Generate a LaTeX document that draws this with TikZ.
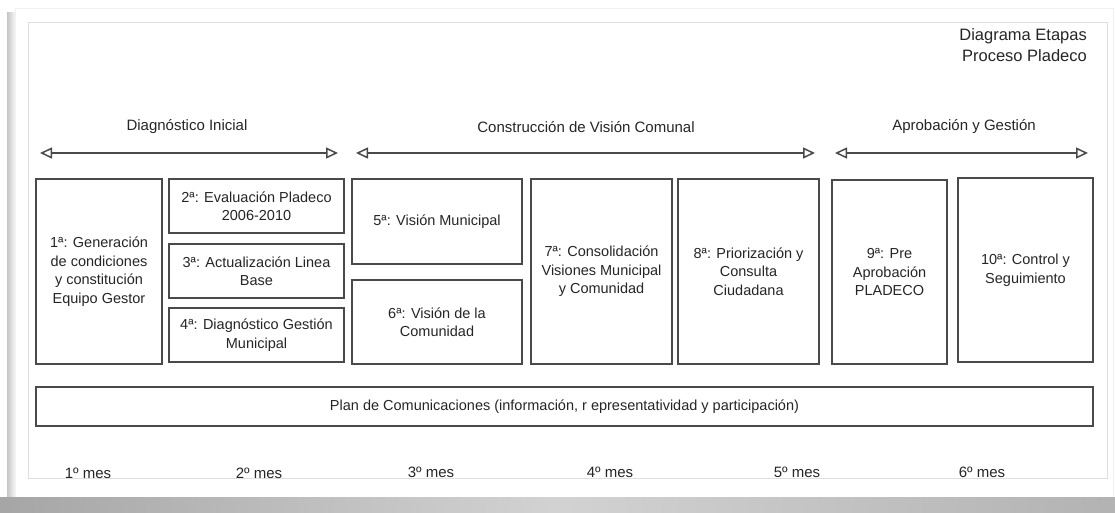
\documentclass[tikz,border=0pt]{standalone}
\usepackage{fontspec}
\setmainfont{Liberation Sans}
\usepackage{tikz}
\usetikzlibrary{
	arrows.meta,
	positioning
}
\definecolor{linegray}{HTML}{4A4A4A}
\definecolor{textgray}{HTML}{262626}
\tikzset{every path/.append style={line width=1.7pt}}
\tikzset{
	etapa/.style={draw=linegray,rectangle,align=center,text=textgray,inner sep=2pt,font=\fontsize{14.5}{18.5}\selectfont},
	fase/.style={text=textgray,font=\fontsize{15}{18}\selectfont},
	mes/.style={text=textgray,font=\fontsize{15}{18}\selectfont},
	flecha/.style={draw=linegray,{Triangle[open,length=12pt,width=11pt,line width=1.5pt]}-{Triangle[open,length=12pt,width=11pt,line width=1.5pt]}}
}
\newcommand{\tikzEtapa}[4][]{\node (#2) at #3 [etapa,#1]{#4};}

\begin{document}
\begin{tikzpicture}[x=1pt,y=-1pt]
	\useasboundingbox (0,0) rectangle (1115,512);
	% papel y sombra
	\fill[white] (0,0) rectangle (1115,512);
	\shade[left color=gray!45,right color=gray!8,line width=0pt] (7,12) rectangle (15,497);
	\draw[gray!12,line width=0.6pt] (15,8) rectangle (1113,497);
	\draw[gray!25,line width=0.6pt] (28,22) rectangle (1107,478);
	\shade[left color=gray!70,right color=gray!60,middle color=gray!35,line width=0pt] (0,497) rectangle (1115,512);

	\node[text=textgray,align=right,anchor=north east,font=\fontsize{16.5}{21}\selectfont] (titulo) at (1091,24) {Diagrama Etapas\\Proceso Pladeco};

	% fases
	\coordinate (f1a) at (40,153);
	\coordinate (f1b) at (338,153);
	\coordinate (f2a) at (356,153);
	\coordinate (f2b) at (815,153);
	\coordinate (f3a) at (835,153);
	\coordinate (f3b) at (1088,153);
	\draw[flecha] (f1a) -- (f1b);
	\draw[flecha] (f2a) -- (f2b);
	\draw[flecha] (f3a) -- (f3b);
	\node[fase] (diag) at (187,127) {Diagnóstico Inicial};
	\node[fase] (cons) at (586,127) {Construcción de Visión Comunal};
	\node[fase] (apro) at (964,127) {Aprobación y Gestión};

	% etapas
	\tikzEtapa[minimum width=126,minimum height=185]{e1}{(99,271.5)}{1ª: Generación\\de condiciones\\y constitución\\Equipo Gestor}
	\tikzEtapa[minimum width=175,minimum height=54]{e2}{(256.5,206)}{2ª: Evaluación Pladeco\\2006-2010}
	\tikzEtapa[minimum width=175,minimum height=54]{e3}{(256.5,271)}{3ª: Actualización Linea\\Base}
	\tikzEtapa[minimum width=175,minimum height=54]{e4}{(256.5,335)}{4ª: Diagnóstico Gestión\\Municipal}
	\tikzEtapa[minimum width=170,minimum height=85]{e5}{(437,221.5)}{5ª: Visión Municipal}
	\tikzEtapa[minimum width=170,minimum height=84]{e6}{(437,322)}{6ª: Visión de la\\Comunidad}
	\tikzEtapa[minimum width=141,minimum height=185]{e7}{(601.5,271.5)}{7ª: Consolidación\\Visiones Municipal\\y Comunidad}
	\tikzEtapa[minimum width=141,minimum height=185]{e8}{(748.5,271.5)}{8ª: Priorización y\\Consulta\\Ciudadana}
	\tikzEtapa[minimum width=115,minimum height=184]{e9}{(889.5,272)}{9ª: Pre\\Aprobación\\PLADECO}
	\tikzEtapa[minimum width=135,minimum height=184]{e10}{(1025.5,270)}{10ª: Control y\\Seguimiento}
	\tikzEtapa[minimum width=1057,minimum height=39]{plan}{(564.5,406.5)}{Plan de Comunicaciones (información, r epresentatividad y participación)}

	% meses
	\node[mes] (m1) at (88,473) {1º mes};
	\node[mes] (m2) at (259,473) {2º mes};
	\node[mes] (m3) at (431,472) {3º mes};
	\node[mes] (m4) at (610,472) {4º mes};
	\node[mes] (m5) at (797,472) {5º mes};
	\node[mes] (m6) at (982,472) {6º mes};
\end{tikzpicture}
\end{document}
